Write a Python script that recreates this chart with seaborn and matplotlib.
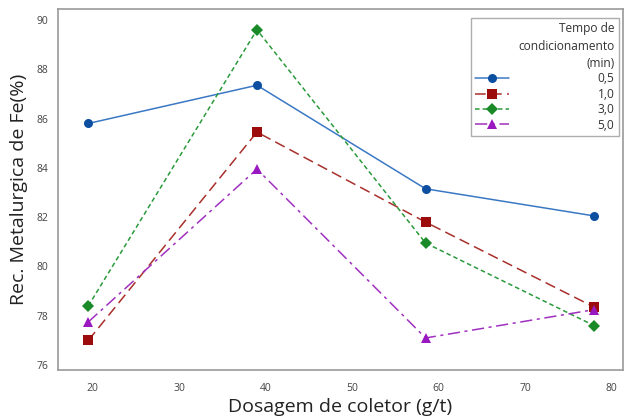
import matplotlib
matplotlib.use("Agg")
import matplotlib.pyplot as plt
import pandas as pd
import seaborn as sns

# dados
dosagem = [19.5, 39.0, 58.5, 78.0]
tempos = ["0,5", "1,0", "3,0", "5,0"]
rec_05 = [85.8, 87.35, 83.15, 82.05]
rec_10 = [77.0, 85.45, 81.8, 78.35]
rec_30 = [78.4, 89.6, 80.95, 77.6]
rec_50 = [77.75, 83.95, 77.1, 78.25]

cores_linha = {"0,5": "#3a78c4", "1,0": "#a8302c", "3,0": "#2a9a3a", "5,0": "#a030c0"}
cores_marc = {"0,5": "#0c4ea0", "1,0": "#9c0c0c", "3,0": "#1a8a28", "5,0": "#9a18c0"}
marcadores = {"0,5": "o", "1,0": "s", "3,0": "D", "5,0": "^"}
tracos = {"0,5": "", "1,0": (7, 3.5), "3,0": (3, 2), "5,0": (8, 3, 2, 3)}

df = pd.DataFrame({
    "dosagem": dosagem * 4,
    "rec": rec_05 + rec_10 + rec_30 + rec_50,
    "tempo": [t for t in tempos for _ in dosagem],
})

sns.set_theme(style="white")
plt.rcParams["font.family"] = ["Open Sans", "DejaVu Sans"]

fig = plt.figure(figsize=(6.24, 4.2), dpi=100)
ax = fig.add_axes([0.093, 0.119, 0.905, 0.86])

sns.lineplot(
    data=df, x="dosagem", y="rec", hue="tempo", style="tempo",
    hue_order=tempos, style_order=tempos,
    palette=cores_linha, markers=marcadores, dashes=tracos,
    linewidth=1.1, markersize=6.5, markeredgewidth=0, ax=ax,
)

# marcadores um pouco mais escuros que as linhas
for linha, t in zip(ax.lines[:len(tempos)], tempos):
    linha.set_markerfacecolor(cores_marc[t])

ax.set_xlim(16.0, 81.3)
ax.set_ylim(75.8, 90.45)
ax.set_xticks([20, 30, 40, 50, 60, 70, 80])
ax.set_yticks([76, 78, 80, 82, 84, 86, 88, 90])

ax.set_xlabel("Dosagem de coletor (g/t)", fontsize=14, color="#222222", labelpad=3)
ax.set_ylabel("Rec. Metalurgica de Fe(%)", fontsize=14, color="#222222", labelpad=6)
ax.tick_params(axis="both", direction="out", length=4, width=1, color="#888888",
               labelsize=7.5, labelcolor="#444444", pad=3)
ax.tick_params(axis="x", pad=5)
for s in ax.spines.values():
    s.set_color("#9a9a9a")
    s.set_linewidth(1.2)

handles, labels = ax.get_legend_handles_labels()
for h, t in zip(handles, labels):
    h.set_markerfacecolor(cores_marc[t])
leg = ax.legend(
    handles=handles, labels=labels,
    title="Tempo de\ncondicionamento\n(min)",
    loc="upper right", bbox_to_anchor=(0.993, 0.975), borderaxespad=0,
    fontsize=8.6, title_fontsize=8.6, handlelength=2.85, handletextpad=7.4,
    labelspacing=0.2, alignment="right", frameon=True, fancybox=False,
    edgecolor="#999999", borderpad=0.35,
)
leg.get_title().set_multialignment("right")
leg.get_title().set_color("#333333")
leg.get_title().set_linespacing(1.45)
for t in leg.get_texts():
    t.set_color("#333333")
leg.get_frame().set_linewidth(1.0)

fig.savefig("out.png", dpi=100)
